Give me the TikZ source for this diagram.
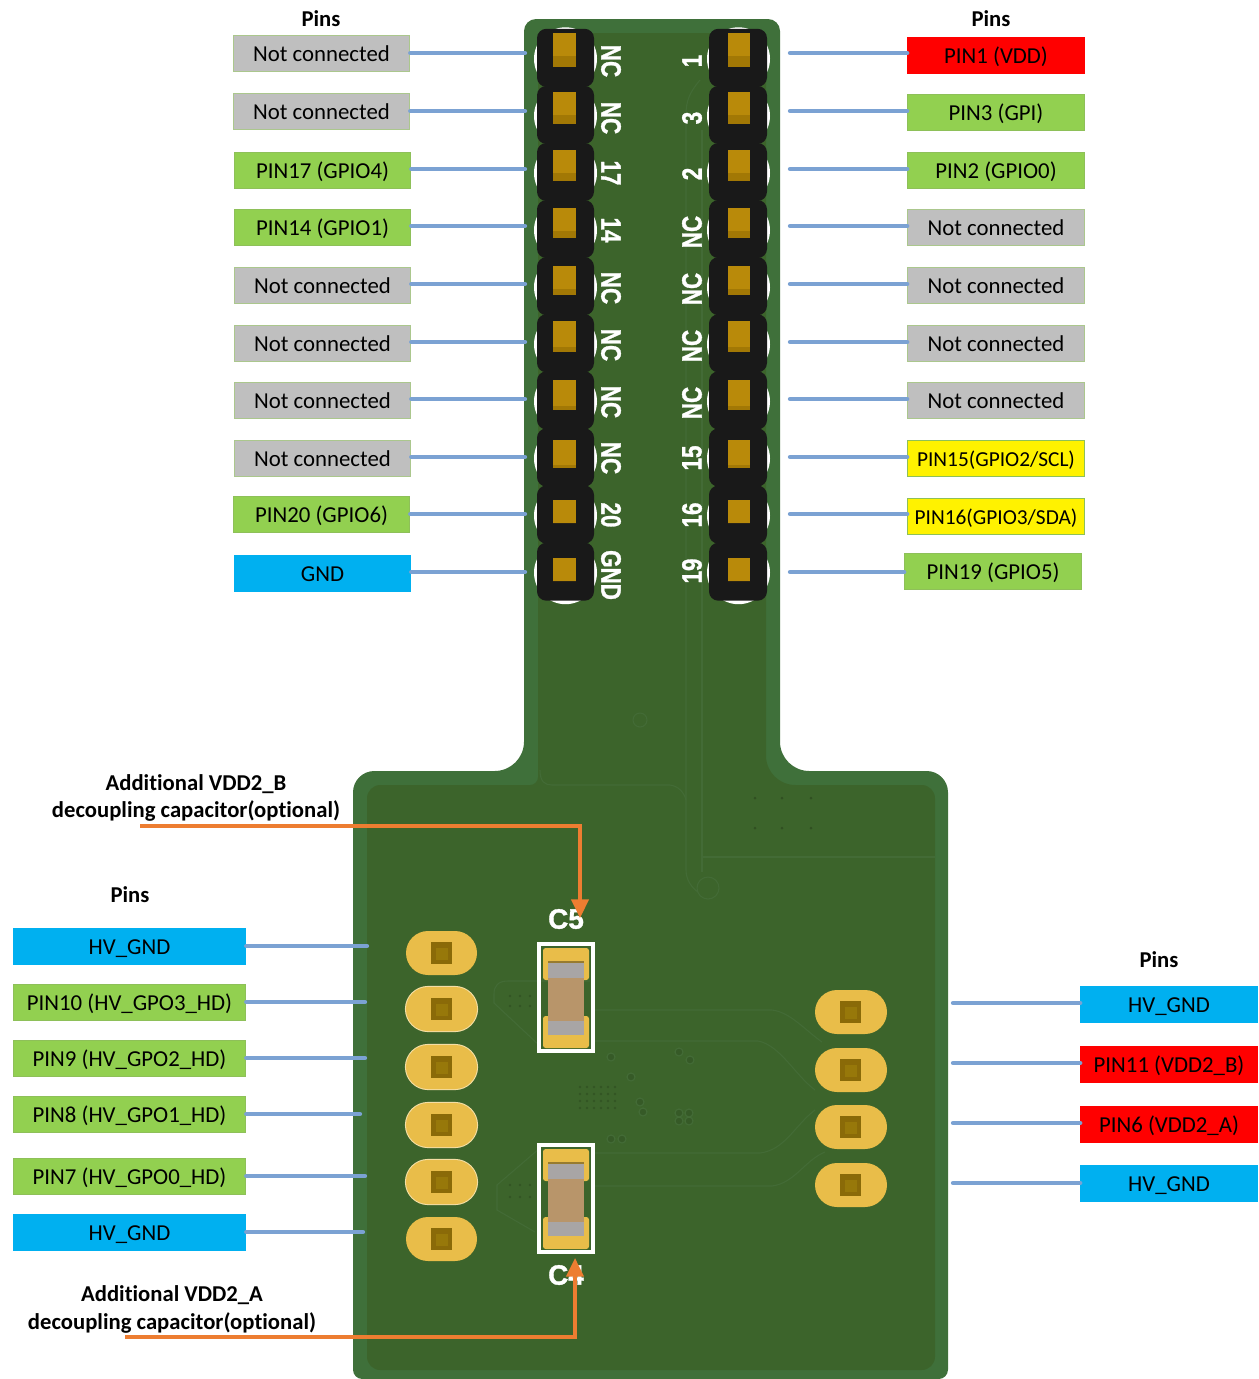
\documentclass[tikz,border=0pt]{standalone}
\usepackage{fontspec}
\setmainfont{Carlito}[Ligatures=CommonOff]
\newfontfamily\silk{Liberation Sans}[BoldFeatures={FakeBold=1.2}]
\usetikzlibrary{arrows.meta}
\definecolor{pcbedge}{HTML}{3F703A}
\definecolor{pcbin}{HTML}{3C642B}
\definecolor{trace}{HTML}{436B36}
\definecolor{padg}{HTML}{E9BD49}
\definecolor{pingold}{HTML}{B98A0A}
\definecolor{pind}{HTML}{A27805}
\definecolor{padin}{HTML}{8A6A08}
\definecolor{padmid}{HTML}{97780A}
\definecolor{conn}{HTML}{7BA2D3}
\definecolor{org}{HTML}{ED7D31}
\definecolor{lgrey}{HTML}{BFBFBF}
\definecolor{lgreen}{HTML}{92D050}
\definecolor{lblue}{HTML}{00B0F0}
\definecolor{capbody}{HTML}{B8956A}
\definecolor{capend}{HTML}{A8A5A5}
\tikzset{
 lab/.style={minimum height=27pt,inner sep=0pt,text=black,text height=14pt,text depth=2pt,font=\fontsize{17.1}{18}\selectfont},
 wB/.style={lab,minimum width=132.5pt},
 wC/.style={lab,minimum width=174.5pt},
 lgr/.style={fill=lgrey,draw=lgreen!45!lgrey,line width=.6pt},
 lgn/.style={fill=lgreen,draw=lgreen!80!gray,line width=.6pt},
 lrd/.style={fill=red,draw=red,line width=.6pt},
 lbl/.style={fill=lblue,draw=lblue,line width=.6pt},
 lyl/.style={fill=yellow,draw=lgreen!80!gray,line width=.6pt,font=\fontsize{16}{18}\selectfont},
 wire/.style={draw=conn,line width=3.2pt,line cap=round},
 oline/.style={draw=org,line width=2.6pt},
 title/.style={font=\fontsize{17}{18}\selectfont\bfseries,inner sep=0pt,yshift=-.75pt},
 silkL/.style={text=white,font=\silk\bfseries\fontsize{21}{21}\selectfont,rotate=-90,xscale=.8,transform shape,inner sep=0pt},
 silkR/.style={text=white,font=\silk\bfseries\fontsize{21}{21}\selectfont,rotate=90,xscale=.8,transform shape,inner sep=0pt},
 silkH/.style={text=white,font=\silk\bfseries\fontsize{21}{21}\selectfont,inner sep=0pt},
 tr/.style={draw=trace,line width=.8pt},
 via/.style={draw=trace,line width=.9pt,fill=pcbin!90!black},
 pill/.style={fill=padg,rounded corners=16.5pt},
}
\begin{document}
\begin{tikzpicture}[x=.75pt,y=-.75pt]
\useasboundingbox (0,0) rectangle (1259,1379);
% board
\fill[pcbedge,rounded corners=9pt] (524,19) -- (780,19) [rounded corners=22pt] -- (780,771) [rounded corners=16pt] -- (948,771) [rounded corners=7pt] -- (948,1379) -- (353,1379) [rounded corners=16pt] -- (353,771) [rounded corners=22pt] -- (524,771) [rounded corners=9pt] -- cycle;
\fill[pcbin,rounded corners=5pt] (538,33) -- (766,33) [rounded corners=22pt] -- (766,785) [rounded corners=10pt] -- (935,785) -- (935,1370) -- (367,1370) -- (367,785) [rounded corners=6pt] -- (538,785) -- cycle;
% traces
\draw[tr] (700,80) .. controls (690,92) and (686,100) .. (686,115) -- (686,870) .. controls (686,880) and (692,888) .. (698,892);
\draw[tr] (702,130) -- (702,872);
\draw[tr] (702,857) -- (935,857);
\draw[tr] (540,770) .. controls (540,782) and (545,785) .. (552,785) -- (670,785) .. controls (678,786) and (684,792) .. (686,800);
\draw[tr] (708,888) circle (11);
\draw[tr] (640,720) circle (7);
\draw[tr] (595,1010) -- (772,1010) .. controls (790,1012) and (805,1030) .. (822,1042);
\draw[tr] (595,1041) -- (758,1041) .. controls (780,1045) and (795,1075) .. (815,1090);
\draw[tr] (595,1153) -- (760,1153) .. controls (785,1150) and (795,1125) .. (815,1110);
\draw[tr] (595,1186) -- (772,1186) .. controls (795,1183) and (805,1160) .. (825,1152);
\draw[tr] (590,981) -- (508,981) .. controls (498,981) and (494,986) .. (494,994) -- (494,1003) -- (540,1046);
\draw[tr] (540,1148) -- (497,1185) -- (497,1210) -- (535,1232);
\foreach \p in {(611,1057),(631,1077),(640,1102),(643,1112),(611,1139),(622,1139),(679,1052),(690,1060),(679,1113),(689,1113),(679,1121),(689,1121)}
  \draw[via] \p circle (4);
\foreach \xx in {580,587,594,601,608,615} \foreach \yy in {1087,1094,1101,1108}
  \fill[pcbin!85!black] (\xx,\yy) circle (1.3);
\foreach \xx in {510,520,530} \foreach \yy in {996,1006}
  \fill[pcbin!85!black] (\xx,\yy) circle (1.3);
\foreach \xx in {510,520,530} \foreach \yy in {1185,1197}
  \fill[pcbin!85!black] (\xx,\yy) circle (1.3);
\foreach \xx in {755,782,811} \foreach \yy in {798,828}
  \fill[pcbin!80!black] (\xx,\yy) circle (1.5);
% headers
\foreach \i in {0,...,9} {
  \pgfmathsetmacro{\cy}{57.8+57.1*\i}
  \fill[white] (565.5,\cy+1) circle (31.5);
  \fill[white] (738.5,\cy+1) circle (31.5);
}
\foreach \i in {0,...,9} {
  \pgfmathsetmacro{\cy}{57.8+57.1*\i}
  \fill[black!90,rounded corners=7pt] (537,\cy-29) rectangle (594,\cy+29);
  \fill[black!90,rounded corners=7pt] (709,\cy-29) rectangle (767,\cy+29);
}
\foreach \tp/\bt/\s in {33/67/11,92/124/9,150/181/8,208/238/7,266/295/6,321/352/5,380/410/4,440/468/3,500/523/0,558/581/0} {
  \fill[pingold] (553,\tp) rectangle (575.5,\bt);
  \fill[pingold] (728,\tp) rectangle (750,\bt);
  \fill[pind] (553,\bt-\s) rectangle (575.5,\bt);
  \fill[pind] (728,\bt-\s) rectangle (750,\bt);
}
% silkscreen
\node[silkL] (sl1) at (611,61) {NC};
\node[silkL] (sl2) at (611,118) {NC};
\node[silkL] (sl3) at (611,173) {17};
\node[silkL] (sl4) at (611,230) {14};
\node[silkL] (sl5) at (611,288) {NC};
\node[silkL] (sl6) at (611,345) {NC};
\node[silkL] (sl7) at (611,402) {NC};
\node[silkL] (sl8) at (611,458) {NC};
\node[silkL] (sl9) at (611,515) {20};
\node[silkL] (sl10) at (611,575) {GND};
\node[silkR] (sr1) at (692,61) {1};
\node[silkR] (sr2) at (692,118) {3};
\node[silkR] (sr3) at (692,174) {2};
\node[silkR] (sr4) at (692,232) {NC};
\node[silkR] (sr5) at (692,289) {NC};
\node[silkR] (sr6) at (692,346) {NC};
\node[silkR] (sr7) at (692,403) {NC};
\node[silkR] (sr8) at (692,458) {15};
\node[silkR] (sr9) at (692,515) {16};
\node[silkR] (sr10) at (692,571) {19};
% pads
\foreach \py in {1009,1067,1125,1182}
  \draw[padg!50!white,line width=1.6pt,rounded corners=16.5pt] (406,\py-22) rectangle (477,\py+22);
\foreach \py in {953,1009,1067,1125,1182,1239} {
  \fill[pill] (406,\py-22) rectangle (477,\py+22);
  \fill[padin] (431,\py-11) rectangle (452,\py+11);
  \fill[padmid] (436,\py-5) rectangle (448,\py+7);
}
\foreach \py in {1012,1070,1127,1185} {
  \fill[pill] (815,\py-22) rectangle (887,\py+22);
  \fill[padin] (840,\py-11) rectangle (861,\py+11);
  \fill[padmid] (845,\py-5) rectangle (857,\py+7);
}
% capacitors
\foreach \o in {0,201} {
  \begin{scope}[shift={(0,\o)}]
  \draw[white,line width=3pt] (539,944) rectangle (593,1051);
  \fill[padg,rounded corners=2pt] (543,948) rectangle (589,980);
  \fill[padg,rounded corners=2pt] (543,1016) rectangle (589,1048);
  \fill[capbody] (548,978) rectangle (584,1021);
  \fill[black!35!padg] (548,961) rectangle (584,964);
  \fill[capend] (548,963) rectangle (584,978);
  \fill[capend] (548,1021) rectangle (584,1035);
  \end{scope}
}
\node[silkH] (c5) at (566,919) {C5};
\node[silkH] (c4) at (566,1275) {C4};
% left labels
\node[wB,lgr] (L1) at (321.5,53) {Not connected};
\node[wB,lgr] (L2) at (321.5,111) {Not connected};
\node[wB,lgn] (L3) at (322.5,170) {PIN17 (GPIO4)};
\node[wB,lgn] (L4) at (322.5,227.5) {PIN14 (GPIO1)};
\node[wB,lgr] (L5) at (322.5,285.5) {Not connected};
\node[wB,lgr] (L6) at (322.5,343.5) {Not connected};
\node[wB,lgr] (L7) at (322.5,400.5) {Not connected};
\node[wB,lgr] (L8) at (322.5,458.5) {Not connected};
\node[wB,lgn] (L9) at (321.5,514.5) {PIN20 (GPIO6)};
\node[wB,lbl] (L10) at (322.5,573.5) {GND};
% right labels
\node[wB,lrd] (R1) at (996,55) {PIN1 (VDD)};
\node[wB,lgn] (R2) at (996,112.5) {PIN3 (GPI)};
\node[wB,lgn] (R3) at (996,170) {PIN2 (GPIO0)};
\node[wB,lgr] (R4) at (996,227.5) {Not connected};
\node[wB,lgr] (R5) at (996,285.5) {Not connected};
\node[wB,lgr] (R6) at (996,343.5) {Not connected};
\node[wB,lgr] (R7) at (996,400.5) {Not connected};
\node[wB,lyl] (R8) at (996,458.5) {PIN15(GPIO2/SCL)};
\node[wB,lyl] (R9) at (996,516) {PIN16(GPIO3/SDA)};
\node[wB,lgn] (R10) at (993,571.5) {PIN19 (GPIO5)};
% lower left
\node[wC,lbl] (A1) at (129.5,946.5) {HV\_GND};
\node[wC,lgn] (A2) at (129.5,1002.5) {PIN10 (HV\_GPO3\_HD)};
\node[wC,lgn] (A3) at (129.5,1058.5) {PIN9 (HV\_GPO2\_HD)};
\node[wC,lgn] (A4) at (129.5,1114.5) {PIN8 (HV\_GPO1\_HD)};
\node[wC,lgn] (A5) at (129.5,1176.5) {PIN7 (HV\_GPO0\_HD)};
\node[wC,lbl] (A6) at (129.5,1232.5) {HV\_GND};
% lower right
\node[wB,lbl] (B1) at (1169,1004) {HV\_GND};
\node[wB,lrd] (B2) at (1169,1064) {PIN11 (VDD2\_B)};
\node[wB,lrd] (B3) at (1169,1124) {PIN6 (VDD2\_A)};
\node[wB,lbl] (B4) at (1169,1183.5) {HV\_GND};
% titles
\node[title] (t1) at (321,18) {Pins};
\node[title] (t2) at (991,18) {Pins};
\node[title] (t3) at (130,894) {Pins};
\node[title] (t4) at (1159,959) {Pins};
\node[title] (n1) at (196,783) {Additional VDD2\_B};
\node[title] (n2) at (196,810) {decoupling capacitor(optional)};
\node[title] (n3) at (172,1294) {Additional VDD2\_A};
\node[title] (n4) at (172,1322) {decoupling capacitor(optional)};
% connectors
\foreach \n/\yy in {1/53,2/111,3/169,4/226,5/284,6/342,7/399,8/457,9/514,10/572} {
  \coordinate (le\n) at (525,\yy);
  \coordinate (re\n) at (790,\yy);
  \draw[wire] (le\n) -- (le\n -| L\n.east);
  \draw[wire] (re\n) -- (re\n -| R\n.west);
}
\foreach \n/\xx/\yy in {1/367/946,2/365/1002,3/365/1058,4/360/1114,5/365/1176,6/363/1232} {
  \coordinate (ae\n) at (\xx,\yy);
  \draw[wire] (ae\n) -- (ae\n -| A\n.east);
}
\foreach \n/\yy in {1/1003,2/1063,3/1123,4/1183} {
  \coordinate (be\n) at (953,\yy);
  \draw[wire] (be\n) -- (be\n -| B\n.west);
}
% orange arrows
\coordinate (o1) at (140,826);
\coordinate (o2) at (125,1337);
\coordinate (c5t) at (580,918);
\coordinate (c4t) at (575,1258);
\draw[oline,-{Triangle[width=13pt,length=14pt]}] (o1) -| (c5t);
\draw[oline,-{Triangle[width=13pt,length=14pt]}] (o2) -| (c4t);
\end{tikzpicture}
\end{document}
